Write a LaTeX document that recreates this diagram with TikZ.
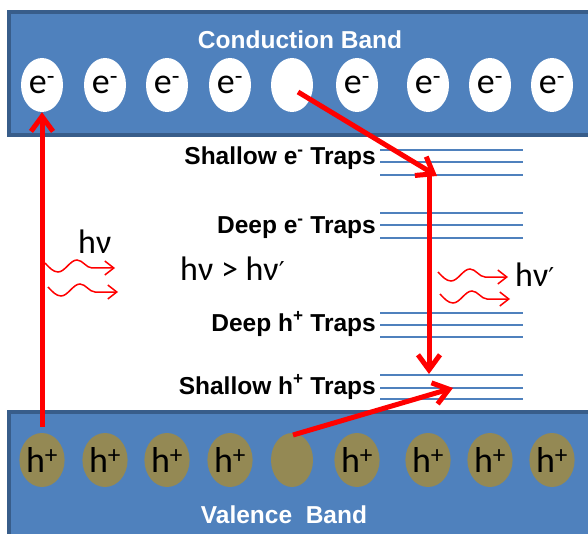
\documentclass[tikz,border=0pt]{standalone}
\usepackage{fontspec}
\setmainfont{Liberation Sans}
\newfontfamily\calibrifont{Carlito}
\newfontfamily\primefont{DejaVu Sans}
\usetikzlibrary{arrows.meta,shapes.geometric}
\definecolor{bandblue}{RGB}{79,129,189}
\definecolor{bandedge}{RGB}{56,93,138}
\definecolor{holeolive}{RGB}{148,137,84}
\definecolor{trapblue}{RGB}{79,129,189}
\definecolor{arrowred}{RGB}{255,0,0}
\newcommand{\primemark}{{\primefont\fontsize{26}{30}\selectfont ′}}

\begin{document}
\begin{tikzpicture}[
    x=1pt,y=-1pt,
    band/.style={draw=bandedge,fill=bandblue,line width=4},
    bandname/.style={font=\bfseries\fontsize{24.5}{28}\selectfont,text=white},
    traplabel/.style={font=\bfseries\fontsize{24.5}{28}\selectfont,anchor=east,inner sep=0},
    particle/.style={ellipse,minimum width=42,minimum height=54,inner sep=0,
      font=\calibrifont\fontsize{36}{40}\selectfont},
    electron/.style={particle,fill=white},
    hole/.style={particle,fill=holeolive},
    trapline/.style={draw=trapblue,line width=2},
    transfer/.style={draw=arrowred,line width=5,-{Straight Barb[length=15pt,width=22pt]}},
    wave/.style={draw=arrowred,line width=1.5,-{Straight Barb[length=9pt,width=14pt]}},
    energy/.style={font=\calibrifont\fontsize{34}{38}\selectfont,anchor=base west,inner sep=0},
    photon/.pic={\draw[wave] (0,0) sin (13,9) cos (22.5,3) sin (32,-3) cos (39.5,1) sin (47,5) -- (70,5);}
  ]
    \useasboundingbox (0,0) rectangle (588,534);
    \clip (0,0) rectangle (588,534);

    \draw[band] (9,12) rectangle (600,135);
    \draw[band] (9,412) rectangle (600,550);

    \node[bandname] (cb) at (300,40) {Conduction Band};
    \node[bandname] (vb) at (284,515) {Valence\ \ Band};

    \node[electron] (e1) at (42,85) {e\textsuperscript{-}};
    \node[electron] (e2) at (105,85) {e\textsuperscript{-}};
    \node[electron] (e3) at (167,85) {e\textsuperscript{-}};
    \node[electron] (e4) at (230,85) {e\textsuperscript{-}};
    \node[electron] (e5) at (292,85) {};
    \node[electron] (e6) at (357,85) {e\textsuperscript{-}};
    \node[electron] (e7) at (428,85) {e\textsuperscript{-}};
    \node[electron] (e8) at (490,85) {e\textsuperscript{-}};
    \node[electron] (e9) at (552,85) {e\textsuperscript{-}};

    \node[hole] (h1) at (42,460) {h\textsuperscript{+}};
    \node[hole] (h2) at (105,460) {h\textsuperscript{+}};
    \node[hole] (h3) at (167,460) {h\textsuperscript{+}};
    \node[hole] (h4) at (230,460) {h\textsuperscript{+}};
    \node[hole] (h5) at (292,460) {};
    \node[hole] (h6) at (357,460) {h\textsuperscript{+}};
    \node[hole] (h7) at (428,460) {h\textsuperscript{+}};
    \node[hole] (h8) at (490,460) {h\textsuperscript{+}};
    \node[hole] (h9) at (552,460) {h\textsuperscript{+}};

    \node[traplabel] (se) at (376,158) {Shallow e\textsuperscript{-} Traps};
    \node[traplabel] (de) at (376,228) {Deep e\textsuperscript{-} Traps};
    \node[traplabel] (dh) at (376,324) {Deep h\textsuperscript{+} Traps};
    \node[traplabel] (sh) at (376,387) {Shallow h\textsuperscript{+} Traps};

    \draw[trapline] (380,150) -- (523,150);
    \draw[trapline] (380,162) -- (523,162);
    \draw[trapline] (380,175) -- (523,175);
    \draw[trapline] (380,213) -- (523,213);
    \draw[trapline] (380,225) -- (523,225);
    \draw[trapline] (380,238) -- (523,238);
    \draw[trapline] (380,313) -- (523,313);
    \draw[trapline] (380,325) -- (523,325);
    \draw[trapline] (380,337) -- (523,337);
    \draw[trapline] (380,375) -- (523,375);
    \draw[trapline] (380,388) -- (523,388);
    \draw[trapline] (380,399) -- (523,399);

    \node[energy] (hv) at (78,254) {hν};
    \node[energy] (cmp) at (180,280) {hν > hν\primemark};
    \node[energy] (hvp) at (515,286) {hν\primemark};

    \pic at (45,263) {photon};
    \pic at (48,287) {photon};
    \pic at (438,272) {photon};
    \pic at (440,294) {photon};

    \coordinate (etrap) at (437,176);
    \coordinate (edrop) at (429,176);
    \coordinate (hland) at (429,374);
    \coordinate (htrap) at (453,388);

    \draw[transfer] ([yshift=6pt]h1.north) -- (e1.south);
    \draw[transfer] ([shift={(6,7)}]e5.center) -- (etrap);
    \draw[transfer] (edrop) -- (hland);
    \draw[transfer] ([shift={(1,-25)}]h5.center) -- (htrap);
  \end{tikzpicture}
\end{document}
